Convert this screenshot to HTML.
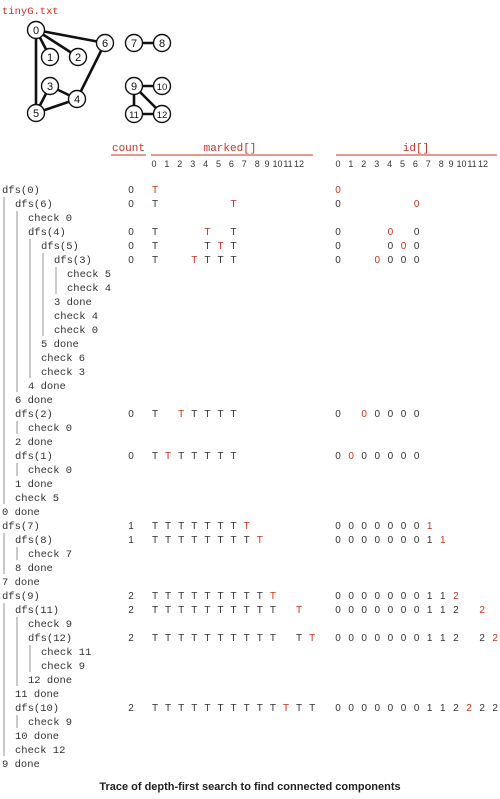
<!DOCTYPE html>
<html><head><meta charset="utf-8">
<style>
html,body{margin:0;padding:0;background:#fff;}
body{width:500px;height:794px;overflow:hidden;}
svg text{font-family:"Liberation Mono",monospace;}
.sans{font-family:"Liberation Sans",sans-serif;}
</style></head>
<body>
<svg id="chart" width="500" height="794" viewBox="0 0 500 794" xmlns="http://www.w3.org/2000/svg">
<text x="2" y="14" font-size="10.5" fill="#c8321e">tinyG.txt</text>
<g id="graph"></g>
<g id="headers">
  <text x="128.5" y="151" font-size="11" fill="#c8321e" text-anchor="middle">count</text>
  <line x1="111" y1="155" x2="146" y2="155" stroke="#c8321e" stroke-width="1"/>
  <text x="230" y="151" font-size="11" fill="#c8321e" text-anchor="middle">marked[]</text>
  <line x1="151" y1="155" x2="313" y2="155" stroke="#c8321e" stroke-width="1"/>
  <text x="416" y="151" font-size="11" fill="#c8321e" text-anchor="middle">id[]</text>
  <line x1="336" y1="155" x2="497" y2="155" stroke="#c8321e" stroke-width="1"/>
</g>
<g id="trace"></g>
<text class="sans" x="250" y="790" font-size="11" font-weight="bold" text-anchor="middle" fill="#222">Trace of depth-first search to find connected components</text>
</svg>
<script>
const NS="http://www.w3.org/2000/svg";
const RED="#c8321e", INK="#333";
// graph data
const nodeIds=[0,1,2,3,4,5,6,7,8,9,10,11,12];
const nodeX=[36,50,78,50,77,36,105,134,162,134,162,134,162];
const nodeY=[30,57,57,86,99,113,43,43,43,86,86,114,114];
const edges=[[0,6],[0,1],[0,2],[0,5],[6,4],[3,4],[3,5],[5,4],[7,8],[9,10],[9,11],[9,12],[11,12]];
// trace data
const rowLabels=["dfs(0)","dfs(6)","check 0","dfs(4)","dfs(5)","dfs(3)","check 5","check 4","3 done","check 4","check 0","5 done","check 6","check 3","4 done","6 done","dfs(2)","check 0","2 done","dfs(1)","check 0","1 done","check 5","0 done","dfs(7)","dfs(8)","check 7","8 done","7 done","dfs(9)","dfs(11)","check 9","dfs(12)","check 11","check 9","12 done","11 done","dfs(10)","check 9","10 done","check 12","9 done"];
const rowDepth=[0,1,2,2,3,4,5,5,4,4,4,3,3,3,2,1,1,2,1,1,2,1,1,0,0,1,2,1,0,0,1,2,2,3,3,2,1,1,2,1,1,0];
const rowCount=[0,0,null,0,0,0,null,null,null,null,null,null,null,null,null,null,0,null,null,0,null,null,null,null,1,1,null,null,null,2,2,null,2,null,null,null,null,2,null,null,null,null];
const markedRows=["T............","T.....T......",null,"T...T.T......","T...TTT......","T..TTTT......",null,null,null,null,null,null,null,null,null,null,"T.TTTTT......",null,null,"TTTTTTT......",null,null,null,null,"TTTTTTTT.....","TTTTTTTTT....",null,null,null,"TTTTTTTTTT...",null,null,"TTTTTTTTTT.TT",null,null,null,null,"TTTTTTTTTTTTT",null,null,null,null];
markedRows[30]="TTTTTTTTTT.T.";
const idRows=["0............","0.....0......",null,"0...0.0......","0...000......","0..0000......",null,null,null,null,null,null,null,null,null,null,"0.00000......",null,null,"0000000......",null,null,null,null,"00000001.....","000000011....",null,null,null,"0000000112...","0000000112.2.",null,"0000000112.22",null,null,null,null,"0000000112222",null,null,null,null];
const redIdx=[0,6,null,4,5,3,null,null,null,null,null,null,null,null,null,null,2,null,null,1,null,null,null,null,7,8,null,null,null,9,11,null,12,null,null,null,null,10,null,null,null,null];
const headerLabels=["0","1","2","3","4","5","6","7","8","9","10","11","12"];
const headerOffsets=[0,12.9,25.8,38.7,51.6,64.5,77.4,90.3,103.2,113,123.5,134,145];

function rowY(i){return 193+14*i;}
function markX(i){return 155+13.1*i;}
function idX(i){return 338+13.1*i;}
function indentX(d){return 2+13*d;}
function el(tag,attrs,parent){const e=document.createElementNS(NS,tag);for(const k in attrs)e.setAttribute(k,attrs[k]);parent.appendChild(e);return e;}

const g=document.getElementById('graph');
edges.forEach(([a,b])=>{
  const l=el('line',{x1:nodeX[a],y1:nodeY[a],x2:nodeX[b],y2:nodeY[b],stroke:'#111','stroke-width':2.6},g);
  
  
});
nodeIds.forEach((n,i)=>{
  const c=el('circle',{cx:nodeX[i],cy:nodeY[i],r:8.5,fill:'#fff',stroke:'#111','stroke-width':1.4},g);
  
  
  const t=el('text',{x:nodeX[i],y:nodeY[i]+3.8,'font-size':n>9?9.5:11,'text-anchor':'middle',fill:'#111',class:'sans'},g);
  
  
  t.textContent=n;
});

const h=document.getElementById('headers');
headerLabels.forEach((lab,i)=>{
  const t=el('text',{x:154+headerOffsets[i],y:167,'font-size':9,fill:INK,class:'sans','text-anchor':'middle'},h);
  
  
  t.textContent=lab;
  const t2=el('text',{x:338+headerOffsets[i],y:167,'font-size':9,fill:INK,class:'sans','text-anchor':'middle'},h);
  
  
  t2.textContent=lab;
});

const tr=document.getElementById('trace');
// indentation bars
rowLabels.forEach((lab,i)=>{
  if(lab.indexOf('dfs')!==0)return;
  const d=rowDepth[i];
  let j=i+1;while(j<rowLabels.length&&rowDepth[j]!==d)j++;
  if(j-1<i+1)return;
  const b=el('line',{x1:4+13*d,x2:4+13*d,y1:rowY(i+1)-10,y2:rowY(j-1)+3,stroke:'#b8b8b8','stroke-width':1.5},tr);
  
  
});
rowLabels.forEach((lab,i)=>{
  const y=rowY(i);
  const t=el('text',{x:indentX(rowDepth[i]),y:y,'font-size':10.5,fill:INK},tr);
  
  
  t.textContent=lab;
  if(rowCount[i]!==null){
    const c=el('text',{x:131,y:y,'font-size':10,fill:INK,class:'sans','text-anchor':'middle'},tr);
    
    
    c.textContent=rowCount[i];
  }
  if(markedRows[i]){
    for(let k=0;k<13;k++){
      const ch=markedRows[i][k];if(ch==='.')continue;
      const m=el('text',{x:markX(k),y:y,'font-size':10,class:'sans','text-anchor':'middle',fill:k===redIdx[i]?RED:INK},tr);
      
      
      m.textContent=ch;
    }
  }
  if(idRows[i]){
    for(let k=0;k<13;k++){
      const ch=idRows[i][k];if(ch==='.')continue;
      const m=el('text',{x:idX(k),y:y,'font-size':10,class:'sans','text-anchor':'middle',fill:k===redIdx[i]?RED:INK},tr);
      
      
      m.textContent=ch;
    }
  }
});
</script>
</body></html>
